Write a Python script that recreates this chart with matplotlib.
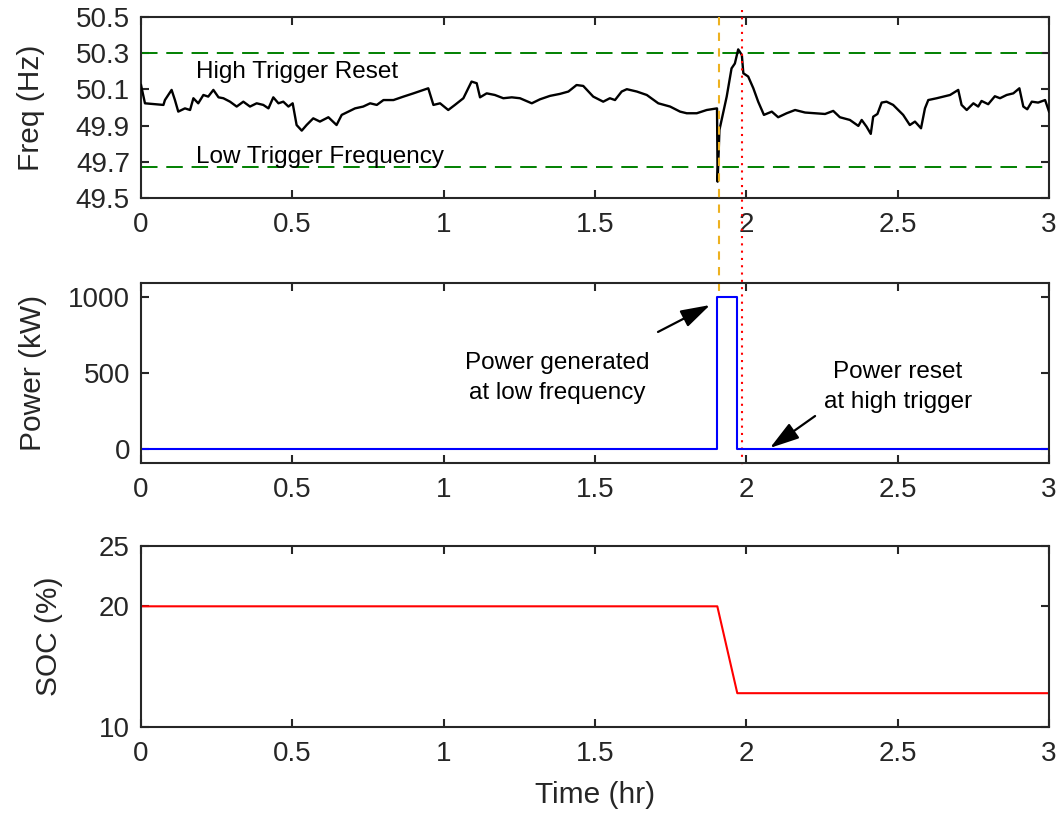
import matplotlib
matplotlib.use('Agg')
import matplotlib.pyplot as plt
from matplotlib.ticker import FormatStrFormatter

plt.rcParams['font.family'] = ['Liberation Sans', 'DejaVu Sans']

# frequency trace (hr, Hz)
freq_t = [0.0, 0.013, 0.074, 0.079, 0.101, 0.112, 0.123, 0.145, 0.162, 0.173, 0.189,
          0.206, 0.222, 0.239, 0.256, 0.272, 0.294, 0.316, 0.338, 0.360, 0.382, 0.404,
          0.421, 0.437, 0.454, 0.470, 0.487, 0.501, 0.514, 0.531, 0.547, 0.569, 0.591,
          0.619, 0.646, 0.663, 0.685, 0.707, 0.734, 0.757, 0.779, 0.801, 0.834, 0.867,
          0.900, 0.949, 0.966, 0.988, 1.015, 1.037, 1.065, 1.092, 1.109, 1.120, 1.142,
          1.169, 1.197, 1.225, 1.252, 1.291, 1.318, 1.351, 1.384, 1.412, 1.439, 1.461,
          1.494, 1.527, 1.549, 1.566, 1.588, 1.605, 1.638, 1.671, 1.709, 1.748, 1.781,
          1.803, 1.836, 1.869, 1.903, 1.905, 1.911, 1.935, 1.951, 1.962, 1.973, 1.985,
          1.990, 2.006, 2.023, 2.039, 2.058, 2.084, 2.105, 2.133, 2.161, 2.194, 2.227,
          2.260, 2.287, 2.309, 2.342, 2.370, 2.381, 2.397, 2.411, 2.419, 2.433, 2.447,
          2.463, 2.485, 2.518, 2.540, 2.557, 2.577, 2.590, 2.601, 2.629, 2.651, 2.673,
          2.700, 2.711, 2.728, 2.750, 2.766, 2.777, 2.799, 2.821, 2.838, 2.860, 2.882,
          2.902, 2.915, 2.928, 2.943, 2.964, 2.987, 3.0]
freq_hz = [50.124, 50.023, 50.014, 50.041, 50.097, 50.041, 49.977, 49.995, 49.986, 50.051,
           50.023, 50.069, 50.060, 50.097, 50.056, 50.051, 50.032, 50.005, 50.032, 50.005,
           50.023, 50.014, 49.995, 50.056, 50.023, 50.032, 50.005, 50.023, 49.903, 49.872,
           49.903, 49.940, 49.922, 49.946, 49.903, 49.959, 49.977, 49.995, 50.005, 50.023,
           50.014, 50.041, 50.041, 50.060, 50.078, 50.106, 50.014, 50.023, 49.986, 50.014,
           50.051, 50.143, 50.134, 50.056, 50.078, 50.069, 50.051, 50.056, 50.051, 50.023,
           50.045, 50.064, 50.075, 50.088, 50.124, 50.119, 50.060, 50.032, 50.051, 50.041,
           50.088, 50.101, 50.088, 50.069, 50.023, 50.005, 49.977, 49.968, 49.968, 49.986,
           49.995, 49.590, 49.876, 50.060, 50.216, 50.243, 50.321, 50.290, 50.189, 50.171,
           50.106, 50.032, 49.959, 49.977, 49.946, 49.968, 49.986, 49.972, 49.968, 49.964,
           49.981, 49.946, 49.931, 49.898, 49.931, 49.894, 49.854, 49.949, 49.964, 50.027,
           50.032, 50.014, 49.959, 49.903, 49.922, 49.885, 49.995, 50.041, 50.051, 50.060,
           50.069, 50.097, 50.014, 49.986, 50.023, 50.005, 50.036, 50.018, 50.062, 50.051,
           50.069, 50.078, 50.106, 50.005, 49.990, 50.032, 50.027, 50.041, 49.977]

high_trigger = 50.3
low_trigger = 49.67
t_low = 1.910   # low trigger time
t_high = 1.987  # high trigger reset time

power_t = [0.0, 1.903, 1.903, 1.969, 1.969, 3.0]
power_kw = [0, 0, 1000, 1000, 0, 0]

soc_t = [0.0, 1.904, 1.970, 3.0]
soc_pct = [20, 20, 12.8, 12.8]

xticks = [0, 0.5, 1, 1.5, 2, 2.5, 3]

fig = plt.figure(figsize=(10.62, 8.16), dpi=100)
left, width = 0.1328, 0.855
ax1 = fig.add_axes([left, 0.7574, width, 0.2218])
ax2 = fig.add_axes([left, 0.4326, width, 0.2206])
ax3 = fig.add_axes([left, 0.1091, width, 0.2218])

edge = '#262626'
for ax in (ax1, ax2, ax3):
    ax.patch.set_visible(False)
    for s in ax.spines.values():
        s.set_linewidth(1.5)
        s.set_color(edge)
    ax.tick_params(direction='in', top=True, right=True, length=6, width=1.5,
                   color=edge, labelcolor=edge, labelsize=20)
    ax.tick_params(axis='x', pad=10)
    ax.tick_params(axis='y', pad=8)
    ax.set_xlim(0, 3)
    ax.set_xticks(xticks)
    ax.xaxis.set_major_formatter(FormatStrFormatter('%g'))

# frequency
ax1.plot(freq_t, freq_hz, color='k', lw=1.7, zorder=3)
ax1.axhline(high_trigger, color='#008000', ls=(0, (8.5, 4.5)), lw=1.4)
ax1.axhline(low_trigger, color='#008000', ls=(0, (8.5, 4.5)), lw=1.4)
ax1.set_ylim(49.5, 50.5)
ax1.set_yticks([49.5, 49.7, 49.9, 50.1, 50.3, 50.5])
ax1.yaxis.set_major_formatter(FormatStrFormatter('%.1f'))
ax1.set_ylabel('Freq (Hz)', fontsize=21.5, color=edge, labelpad=22)
ax1.text(0.182, 50.195, 'High Trigger Reset', fontsize=17.5, va='center')
ax1.text(0.182, 49.727, 'Low Trigger Frequency', fontsize=17.5, va='center')
xt = ax1.get_xaxis_transform()
ax1.plot([t_low, t_low], [1.0, -0.52], transform=xt, clip_on=False,
         color='#EDB120', ls=(0, (4, 3.5)), lw=1.5, zorder=4)
ax1.plot([t_high, t_high], [1.04, -1.50], transform=xt, clip_on=False,
         color='#FF0000', ls=(0, (1, 2.5)), lw=1.5, zorder=4)

# power
ax2.plot(power_t, power_kw, color='#0000FF', lw=1.5)
ax2.set_ylim(-92, 1092)
ax2.set_yticks([0, 500, 1000])
ax2.set_ylabel('Power (kW)', fontsize=21.5, color=edge, labelpad=15)
arrow = dict(arrowstyle='-|>,head_length=1.8,head_width=0.55', color='k', lw=1.6,
             shrinkA=0, shrinkB=0)
ax2.annotate('', xy=(1.880, 947), xytext=(1.708, 770), arrowprops=arrow)
ax2.text(1.375, 467, 'Power generated\nat low frequency', fontsize=17.5,
         ha='center', va='center', linespacing=1.5)
ax2.annotate('', xy=(2.078, 7), xytext=(2.227, 217), arrowprops=arrow)
ax2.text(2.501, 408, 'Power reset\nat high trigger', fontsize=17.5,
         ha='center', va='center', linespacing=1.5)

# state of charge
ax3.plot(soc_t, soc_pct, color='#FF0000', lw=1.5)
ax3.set_ylim(10, 25)
ax3.set_yticks([10, 20, 25])
ax3.set_ylabel('SOC (%)', fontsize=21.5, color=edge, labelpad=26)
ax3.set_xlabel('Time (hr)', fontsize=21.5, color=edge, labelpad=10)

fig.savefig('out.png', dpi=100, facecolor='white')
